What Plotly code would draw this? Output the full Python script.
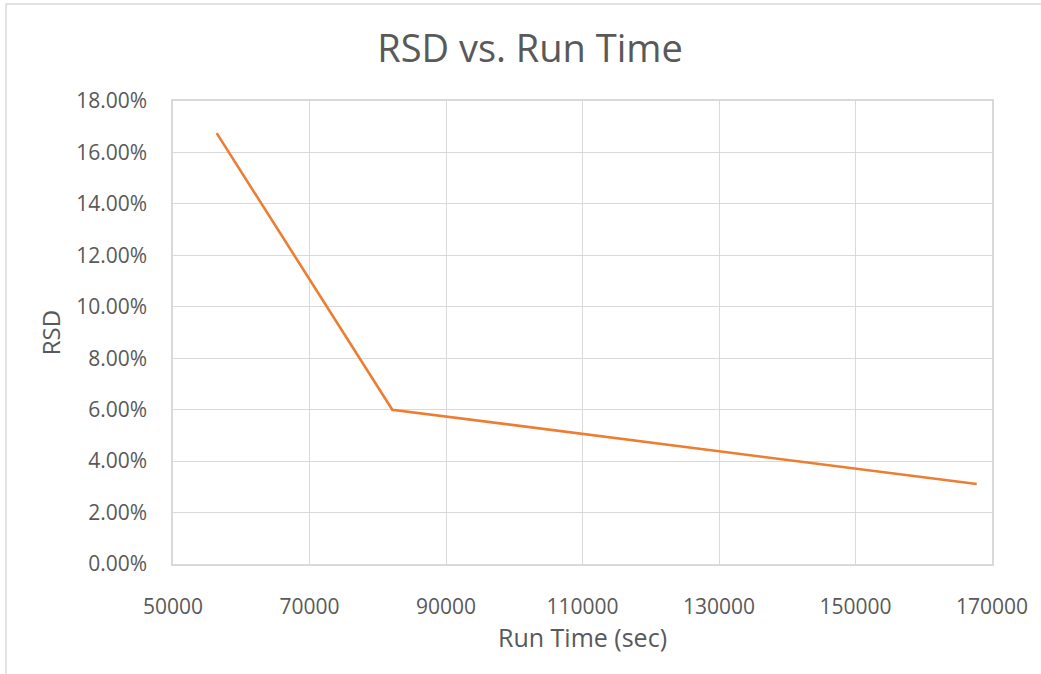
import plotly.graph_objects as go

# Run time (seconds) and the relative standard deviation measured at each
run_time_sec = [56400, 82130, 167760]
rsd = [0.1675, 0.0600, 0.0311]

x_ticks = [50000, 70000, 90000, 110000, 130000, 150000, 170000]
y_ticks = [0.00, 0.02, 0.04, 0.06, 0.08, 0.10, 0.12, 0.14, 0.16, 0.18]

W, H = 1041, 674
L, R, T, B = 173, 49, 101, 110
pw, ph = W - L - R, H - T - B

TEXT = "#595959"
GRID = "#d9d9d9"
FONT = "Open Sans, Segoe UI, DejaVu Sans, sans-serif"

fig = go.Figure()
fig.add_trace(go.Scatter(
    x=run_time_sec, y=rsd, mode="lines",
    line=dict(color="#ED7D31", width=2.6),
    showlegend=False,
))

fig.update_layout(
    width=W, height=H,
    margin=dict(l=L, r=R, t=T, b=B, pad=0),
    paper_bgcolor="white", plot_bgcolor="white",
    font=dict(family=FONT, color=TEXT),
    title=dict(text="RSD vs. Run Time", x=530 / W, xanchor="center",
               y=1 - 49 / H, yanchor="middle",
               font=dict(size=38, color=TEXT, family=FONT)),
    xaxis=dict(
        range=[50000, 170000], tickvals=x_ticks, ticktext=[str(v) for v in x_ticks],
        showgrid=True, gridcolor=GRID, gridwidth=1,
        showline=True, linecolor=GRID, linewidth=1.5, mirror=True,
        zeroline=False, ticks="", ticklabelstandoff=23,
        tickfont=dict(size=21, color=TEXT),
        title=dict(text="Run Time (sec)", font=dict(size=25, color=TEXT), standoff=11),
    ),
    yaxis=dict(
        range=[0, 0.18], tickvals=y_ticks, tickformat=".2%",
        showgrid=True, gridcolor=GRID, gridwidth=1,
        showline=True, linecolor=GRID, linewidth=1.5, mirror=True,
        zeroline=False, ticks="", ticklabelstandoff=20,
        tickfont=dict(size=21, color=TEXT),
        title=dict(text="RSD", font=dict(size=24, color=TEXT), standoff=9),
    ),
)

# Outer chart-area border
fig.add_shape(
    type="rect", xref="paper", yref="paper",
    x0=(6 - L) / pw, x1=(W + 10 - L) / pw,
    y0=-(H + 10 - (T + ph)) / ph, y1=(T + ph - 4) / ph,
    line=dict(color=GRID, width=1.5), fillcolor="rgba(0,0,0,0)", layer="below",
)

fig.write_html("out.html")
